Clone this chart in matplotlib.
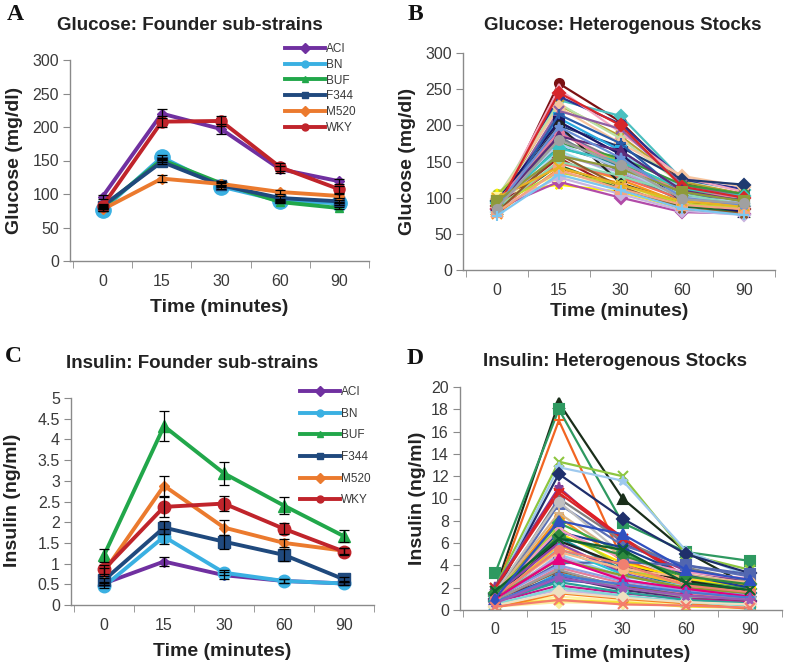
import matplotlib
matplotlib.use("Agg")
import matplotlib.pyplot as plt
import numpy as np

# ---------------- data ----------------
times = ["0", "15", "30", "60", "90"]
strains = ["ACI", "BN", "BUF", "F344", "M520", "WKY"]

glucose_founder = {
    "ACI":  [96, 220, 197, 137, 119],
    "BN":   [76, 155, 111, 90, 86],
    "BUF":  [80, 151, 116, 88, 79],
    "F344": [82, 148, 113, 94, 89],
    "M520": [77, 123, 115, 103, 97],
    "WKY":  [82, 208, 209, 140, 107],
}
glucose_founder_err = {
    "ACI":  [3, 7, 7, 5, 4],
    "BN":   [2, 3, 3, 2, 2],
    "BUF":  [2, 3, 3, 2, 2],
    "F344": [2, 3, 3, 3, 2],
    "M520": [2, 5, 3, 3, 3],
    "WKY":  [3, 8, 7, 6, 5],
}

insulin_founder = {
    "ACI":  [0.52, 1.05, 0.72, 0.58, 0.52],
    "BN":   [0.45, 1.65, 0.78, 0.58, 0.52],
    "BUF":  [1.20, 4.32, 3.18, 2.40, 1.66],
    "F344": [0.60, 1.87, 1.53, 1.21, 0.62],
    "M520": [0.80, 2.88, 1.87, 1.50, 1.31],
    "WKY":  [0.86, 2.37, 2.45, 1.84, 1.29],
}
insulin_founder_err = {
    "ACI":  [0.04, 0.12, 0.08, 0.04, 0.03],
    "BN":   [0.04, 0.18, 0.06, 0.05, 0.03],
    "BUF":  [0.16, 0.36, 0.28, 0.20, 0.15],
    "F344": [0.06, 0.15, 0.17, 0.15, 0.05],
    "M520": [0.10, 0.24, 0.18, 0.10, 0.07],
    "WKY":  [0.10, 0.25, 0.19, 0.13, 0.08],
}

glucose_hs = [
    [80, 258, 205, 120, 105],
    [95, 235, 213, 125, 110],
    [88, 240, 202, 125, 112],
    [90, 250, 190, 128, 108],
    [92, 228, 185, 122, 105],
    [100, 230, 182, 118, 100],
    [98, 225, 175, 130, 115],
    [95, 200, 170, 125, 118],
    [85, 210, 165, 110, 98],
    [90, 205, 160, 115, 100],
    [85, 220, 195, 118, 102],
    [88, 190, 150, 105, 95],
    [95, 195, 140, 100, 90],
    [100, 175, 155, 118, 105],
    [90, 170, 145, 112, 98],
    [105, 180, 150, 110, 100],
    [80, 165, 130, 100, 88],
    [92, 185, 135, 95, 85],
    [82, 150, 125, 92, 85],
    [78, 140, 120, 88, 82],
    [105, 118, 108, 85, 80],
    [85, 122, 100, 80, 78],
    [88, 155, 110, 90, 85],
    [100, 130, 115, 95, 90],
    [85, 145, 112, 88, 80],
    [90, 160, 135, 102, 95],
    [82, 148, 128, 98, 90],
    [95, 205, 160, 95, 80],
    [88, 200, 120, 92, 85],
    [80, 215, 175, 105, 92],
    [90, 135, 118, 92, 86],
    [85, 128, 105, 82, 76],
    [95, 190, 145, 108, 100],
    [90, 175, 140, 100, 95],
    [85, 150, 130, 105, 90],
    [80, 160, 115, 85, 78],
    [92, 168, 150, 112, 102],
    [85, 245, 200, 115, 100],
    [80, 138, 112, 90, 84],
    [90, 185, 165, 110, 95],
    [100, 142, 118, 95, 88],
    [88, 198, 155, 100, 90],
    [95, 158, 140, 108, 95],
    [85, 180, 145, 98, 92],
    [75, 132, 110, 85, 76],
]

insulin_hs = [
    [1.8, 18.6, 10.0, 5.2, 2.1],
    [3.3, 18.0, 7.8, 5.2, 4.4],
    [1.5, 17.0, 4.5, 2.6, 2.0],
    [2.0, 13.3, 12.0, 5.0, 3.6],
    [1.6, 12.8, 11.6, 5.3, 3.0],
    [1.4, 12.2, 8.2, 5.0, 3.3],
    [2.1, 11.0, 6.0, 3.5, 2.5],
    [1.9, 10.8, 6.5, 3.0, 2.2],
    [1.2, 10.0, 6.2, 3.8, 2.6],
    [1.0, 9.5, 5.8, 4.0, 3.0],
    [2.0, 10.5, 6.4, 2.8, 1.8],
    [1.6, 9.7, 5.0, 2.5, 1.5],
    [1.2, 8.3, 4.4, 2.4, 2.0],
    [1.4, 8.7, 4.8, 3.2, 2.4],
    [1.3, 7.8, 5.2, 2.7, 1.9],
    [0.9, 6.9, 4.2, 2.8, 2.1],
    [1.5, 7.4, 3.8, 2.2, 1.6],
    [1.1, 7.0, 5.6, 3.1, 2.0],
    [1.3, 7.2, 4.6, 3.4, 2.8],
    [0.8, 6.5, 3.6, 2.0, 1.5],
    [1.0, 5.8, 3.5, 2.3, 1.8],
    [1.2, 6.2, 4.0, 2.6, 1.7],
    [1.4, 6.0, 3.3, 1.9, 1.4],
    [0.7, 5.0, 3.0, 2.1, 1.2],
    [1.0, 4.2, 4.3, 4.0, 3.2],
    [0.9, 5.5, 3.2, 1.8, 1.3],
    [1.1, 4.8, 2.8, 1.6, 1.1],
    [0.6, 2.7, 2.2, 1.4, 1.0],
    [0.5, 3.3, 1.9, 1.2, 0.4],
    [1.0, 3.0, 1.8, 1.1, 0.8],
    [0.8, 3.8, 2.4, 1.5, 1.0],
    [0.7, 2.2, 1.5, 1.0, 0.7],
    [1.2, 4.5, 3.1, 2.0, 1.5],
    [0.9, 3.5, 2.1, 1.3, 0.9],
    [0.4, 1.2, 0.8, 0.5, 0.6],
    [0.3, 0.7, 0.6, 0.4, 0.3],
    [0.5, 0.9, 0.7, 0.3, 0.2],
    [0.6, 1.8, 1.2, 0.8, 0.5],
    [0.2, 1.5, 1.0, 0.6, 0.1],
    [0.8, 2.5, 1.6, 0.9, 0.6],
    [0.5, 2.0, 1.3, 0.7, 0.4],
    [1.3, 5.2, 3.7, 2.9, 2.5],
    [1.1, 4.0, 2.6, 1.7, 1.3],
    [0.9, 3.6, 2.0, 1.2, 1.0],
    [1.5, 6.6, 4.9, 3.0, 2.3],
    [1.2, 5.4, 4.1, 2.2, 1.6],
    [1.0, 4.6, 2.7, 1.9, 1.2],
    [1.7, 6.4, 5.4, 2.4, 1.8],
    [0.7, 3.1, 2.3, 1.6, 1.1],
    [0.4, 1.6, 1.1, 0.7, 0.5],
    [0.6, 2.9, 2.0, 1.3, 0.9],
    [1.0, 8.0, 6.8, 3.6, 2.7],
    [0.3, 0.9, 0.5, 0.4, 0.2],
]

# ---------------- styles ----------------
W, H = 787, 666
strain_colors = {"ACI": "#7030A0", "BN": "#3AB0E2", "BUF": "#21A74A",
                 "F344": "#1F497D", "M520": "#EB7A2E", "WKY": "#C0242B"}
strain_markers = {"ACI": "D", "BN": "o", "BUF": "^", "F344": "s", "M520": "D", "WKY": "o"}
strain_msize_A = {"ACI": 5, "BN": 11, "BUF": 6, "F344": 7, "M520": 5, "WKY": 8}
strain_msize_C = {"ACI": 5, "BN": 9, "BUF": 8, "F344": 8, "M520": 5, "WKY": 9}

pal_B = ['#7B1113', '#4BC0C0', '#2E3192', '#F4A6C0', '#B8A030', '#B9E0A5', '#F7C59F',
         '#1F3A70', '#29ABE2', '#8FC7E8', '#8E5EA2', '#808080', '#3F5FBF', '#3C9A3C',
         '#1E8C8C', '#A5C739', '#9FE2E6', '#6D7B8D', '#F7941D', '#F68B1F', '#FFF200',
         '#B24BA8', '#9E1F22', '#FFF5A0', '#1E6B30', '#B79FD1', '#F26B5B', '#1B1464',
         '#222222', '#2A5CAA', '#C1D82F', '#C8B5E0', '#E87CA0', '#AFCBEA', '#8CD9B3',
         '#8C5A2B', '#38C3C3', '#D7262B', '#F4A582', '#5E2C7A', '#E8B323', '#6A8FD6',
         '#8E9A3A', '#A0A0A0', '#7DC7F0']
mk_B = ['o', 'D', 'o', '^', 'x', '*', 'D', 'D', 's', '^', 'x', '*', 's', 'o', '+']
pal_D = ['#1A2E1A', '#2E9960', '#F26522', '#8DC63F', '#9EC9EE', '#1F2F6B', '#7F3F98',
         '#E31B23', '#7F7F7F', '#5A6FB5', '#D7262B', '#C0C0C0', '#F7941D', '#D8B48A',
         '#3CAA4A', '#FFE000', '#B5D334', '#1C3F94', '#F49AC1', '#12868E', '#F9B233',
         '#222222', '#8E44AD', '#8FD3F0', '#5166B0', '#29C5D6', '#C39BD3', '#3E6FC7',
         '#27A9E1', '#4B2C6E', '#E57E9A', '#C2188B', '#8F9A2E', '#8C5A2B', '#FFF3A0',
         '#FBEDA0', '#F5E33A', '#C8B6E2', '#F58220', '#2AA198', '#7ED6D6', '#F9B98A',
         '#8FA0E0', '#9A9A9A', '#2E8B3E', '#F08070', '#E6007E', '#0F5F2F', '#4A7AD0',
         '#EEE0C0', '#9B59B6', '#3050C0', '#F47C6C']
mk_D = ['^', 's', '+', 'x', '*', 'D', '*', '_', 'o', 's', 'x', 'o', 'o', '+', 'D', 'o',
        '^', 'x', '*', 'D', '*', '^', 'x', 'x', 's', '^', 'o', 's', '^', 'D']

SANS = ["Liberation Sans", "DejaVu Sans"]
SERIF = ["Liberation Serif", "DejaVu Serif"]
TICKCOL = "#3a3a3a"
SPINECOL = "#8a8a8a"

fig = plt.figure(figsize=(W / 100, H / 100), dpi=100)


def px_axes(l, r, t, b):
    return fig.add_axes([l / W, 1 - b / H, (r - l) / W, (b - t) / H])


def style_axes(ax, ymax, ystep, yfmt, xpad):
    x = np.arange(len(times))
    ax.set_xlim(-0.55, len(times) - 0.5)
    ax.set_ylim(0, ymax)
    for s in ["top", "right"]:
        ax.spines[s].set_visible(False)
    for s in ["left", "bottom"]:
        ax.spines[s].set_color(SPINECOL)
        ax.spines[s].set_linewidth(1.0)
    ax.set_xticks(x)
    ax.set_xticklabels(times)
    ax.set_xticks(np.arange(-0.5, len(times)), minor=True)
    ax.tick_params(axis="x", which="major", length=0, pad=xpad, labelsize=11.5,
                   labelcolor=TICKCOL)
    ax.tick_params(axis="x", which="minor", length=5, color=SPINECOL, direction="out")
    yt = np.arange(0, ymax + ystep / 2, ystep)
    ax.set_yticks(yt)
    ax.set_yticklabels([yfmt(v) for v in yt])
    ax.tick_params(axis="y", length=5, color=SPINECOL, direction="out", pad=3,
                   labelsize=11.5, labelcolor=TICKCOL)
    for lab in ax.get_xticklabels() + ax.get_yticklabels():
        lab.set_family(SANS)


def fmt_int(v):
    return "%d" % v


def fmt_half(v):
    return ("%g" % v)


def founder_panel(ax, data, err, msizes, legend_anchor, labelspacing):
    x = np.arange(len(times))
    for s in strains:
        ax.plot(x, data[s], color=strain_colors[s], lw=2.8,
                marker=strain_markers[s], ms=msizes[s],
                mec=strain_colors[s], mfc=strain_colors[s], zorder=2, label=s)
        ax.errorbar(x, data[s], yerr=err[s], fmt="none", ecolor="black",
                    elinewidth=0.9, capsize=3.5, capthick=0.9, zorder=3)
    leg_handles = [plt.Line2D([], [], color=strain_colors[s], lw=2.8,
                              marker=strain_markers[s], ms=5) for s in strains]
    ax.legend(leg_handles, strains, loc="upper left",
              bbox_to_anchor=(legend_anchor[0] / W, 1 - legend_anchor[1] / H),
              bbox_transform=fig.transFigure, frameon=False,
              handlelength=3.4, handletextpad=0.1, labelspacing=labelspacing,
              borderpad=0, borderaxespad=0, prop={"family": SANS, "size": 8.5})
    for t in ax.get_legend().get_texts():
        t.set_color(TICKCOL)


def hs_panel(ax, data, pal, mks, ms):
    x = np.arange(len(times))
    for i, row in enumerate(data):
        c = pal[i % len(pal)]
        m = mks[i % len(mks)]
        ax.plot(x, row, color=c, lw=1.6, marker=m, ms=ms, mec=c, mfc=c,
                mew=1.5, zorder=2)


# Panel A
axA = px_axes(70, 369, 60, 261)
style_axes(axA, 300, 50, fmt_int, 9)
founder_panel(axA, glucose_founder, glucose_founder_err, strain_msize_A, (285, 43), 0.32)

# Panel B
axB = px_axes(463, 775, 53, 270)
style_axes(axB, 300, 50, fmt_int, 9)
hs_panel(axB, glucose_hs, pal_B, mk_B, 6.5)

# Panel C
axC = px_axes(71, 374, 398, 605)
style_axes(axC, 5, 0.5, fmt_half, 9)
founder_panel(axC, insulin_founder, insulin_founder_err, strain_msize_C, (300, 386), 0.82)

# Panel D
axD = px_axes(460, 782, 387, 610)
style_axes(axD, 20, 2, fmt_int, 9)
hs_panel(axD, insulin_hs, pal_D, mk_D, 6.5)


def ftext(x, y, s, **kw):
    fig.text(x / W, 1 - y / H, s, **kw)


title_kw = dict(family=SANS, fontsize=13.5, fontweight="bold", color="#222222",
                ha="center", va="center")
ftext(190, 25, "Glucose: Founder sub-strains", **title_kw)
ftext(623, 25, "Glucose: Heterogenous Stocks", **title_kw)
ftext(192, 363, "Insulin: Founder sub-strains", **title_kw)
ftext(615, 362, "Insulin: Heterogenous Stocks", **title_kw)

letter_kw = dict(family=SERIF, fontsize=17, fontweight="bold", color="#111111",
                 ha="center", va="center")
ftext(15, 14, "A", **letter_kw)
ftext(415, 14, "B", **letter_kw)
ftext(13, 357, "C", **letter_kw)
ftext(415, 358, "D", **letter_kw)

lab_kw = dict(family=SANS, fontsize=14, fontweight="bold", color="#222222",
              ha="center", va="center")
ftext(219, 308, "Time (minutes)", **lab_kw)
ftext(619, 311, "Time (minutes)", **lab_kw)
ftext(222, 651, "Time (minutes)", **lab_kw)
ftext(621, 654, "Time (minutes)", **lab_kw)
ftext(15, 160, "Glucose (mg/dl)", rotation=90, **lab_kw)
ftext(408, 161, "Glucose (mg/dl)", rotation=90, **lab_kw)
ftext(13, 500, "Insulin (ng/ml)", rotation=90, **lab_kw)
ftext(417, 498, "Insulin (ng/ml)", rotation=90, **lab_kw)

fig.savefig("out.png", dpi=100)
